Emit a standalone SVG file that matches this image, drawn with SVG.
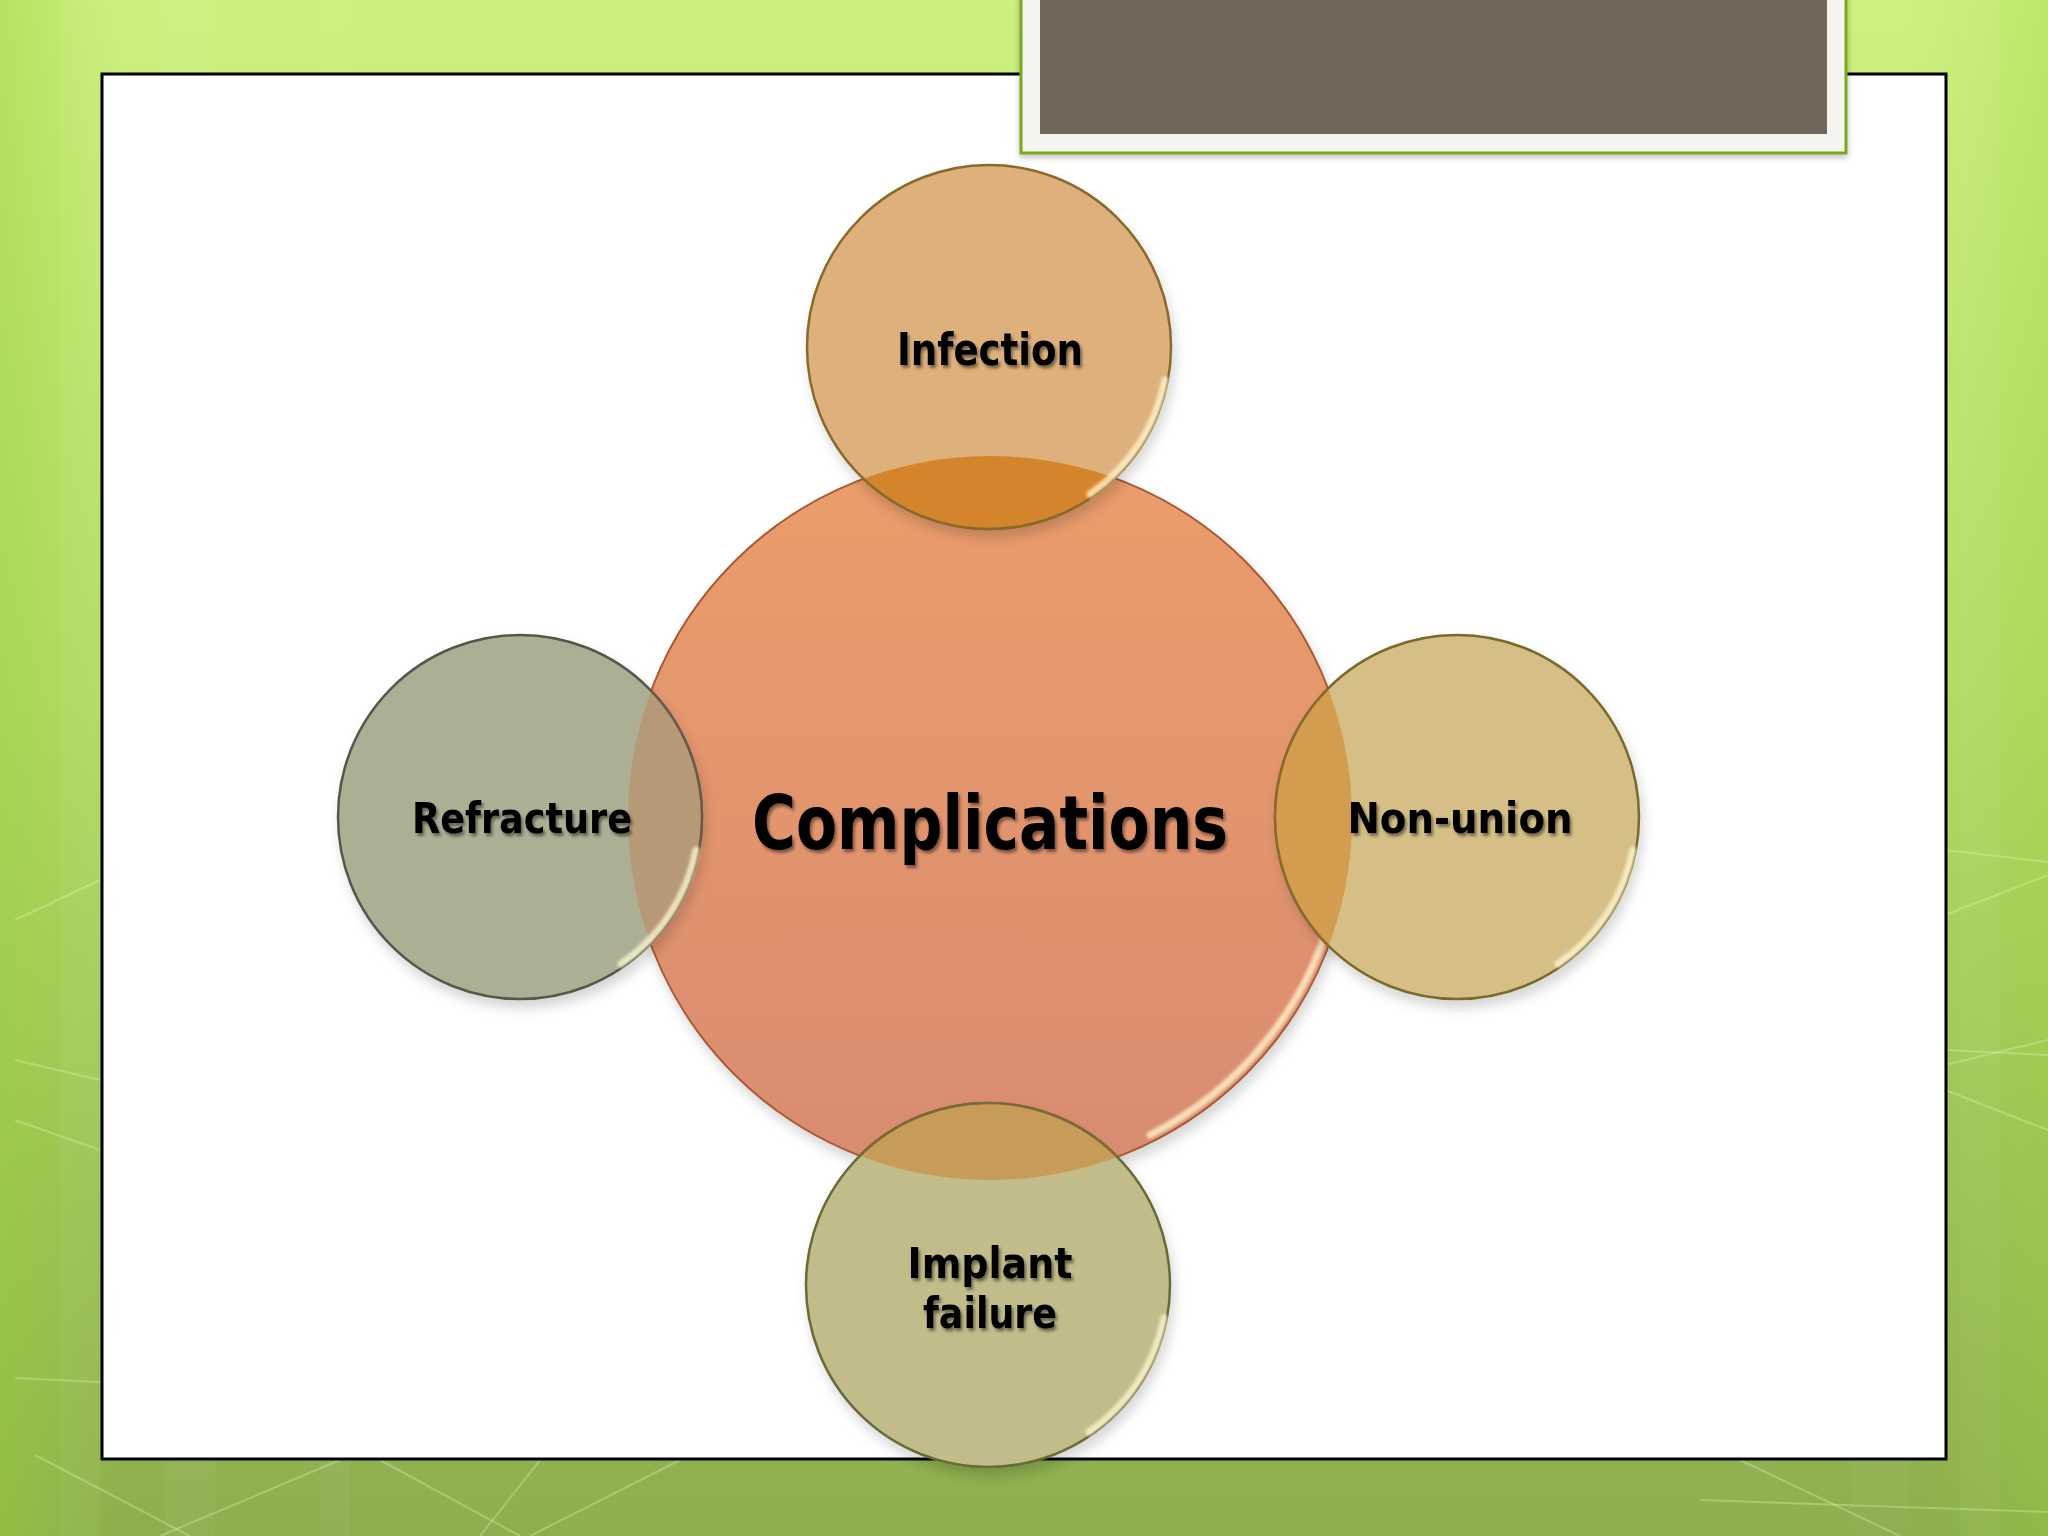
<svg xmlns="http://www.w3.org/2000/svg" width="2048" height="1536" viewBox="0 0 2048 1536">
  <style>
    .lbl { font-family: "DejaVu Sans", "Liberation Sans", sans-serif; font-weight: bold; fill: #000; text-anchor: middle; filter: url(#tshadow); }
    .bgline { stroke: #e8ffc0; stroke-opacity: 0.3; stroke-width: 2; fill: none; }
    .rim { fill: none; stroke: #fff8d0; stroke-width: 7; stroke-linecap: round; stroke-opacity: 0.75; filter: url(#soft); }
  </style>
  <defs>
    <linearGradient id="bg" x1="0" y1="0" x2="0" y2="1">
      <stop offset="0" stop-color="#cdf17e"/>
      <stop offset="0.45" stop-color="#b5dc68"/>
      <stop offset="1" stop-color="#8cae4e"/>
    </linearGradient>
    <linearGradient id="bgside" x1="0" y1="0" x2="1" y2="0">
      <stop offset="0" stop-color="#9ad03a" stop-opacity="0.45"/>
      <stop offset="0.06" stop-color="#9ad03a" stop-opacity="0"/>
      <stop offset="0.94" stop-color="#9ad03a" stop-opacity="0"/>
      <stop offset="1" stop-color="#9ad03a" stop-opacity="0.3"/>
    </linearGradient>
    <linearGradient id="gCenter" x1="0" y1="0" x2="0" y2="1">
      <stop offset="0" stop-color="#eb9d6b"/>
      <stop offset="1" stop-color="#d98b70"/>
    </linearGradient>
    <filter id="tshadow" x="-10%" y="-20%" width="120%" height="150%">
      <feDropShadow dx="2" dy="3" stdDeviation="1.5" flood-color="#000" flood-opacity="0.45"/>
    </filter>
    <filter id="cshadow" x="-15%" y="-15%" width="130%" height="135%">
      <feDropShadow dx="3" dy="8" stdDeviation="6" flood-color="#000" flood-opacity="0.16"/>
    </filter>
    <filter id="bshadow" x="-5%" y="-20%" width="110%" height="140%">
      <feDropShadow dx="0" dy="3" stdDeviation="3" flood-color="#000" flood-opacity="0.25"/>
    </filter>
    <filter id="soft" x="-20%" y="-20%" width="140%" height="140%">
      <feGaussianBlur stdDeviation="1.5"/>
    </filter>
    <clipPath id="clipCenter">
      <circle cx="990" cy="818" r="362"/>
    </clipPath>
  </defs>

  <!-- background -->
  <rect x="0" y="0" width="2048" height="1536" fill="url(#bg)"/>
  <rect x="0" y="0" width="2048" height="1536" fill="url(#bgside)"/>
  <g opacity="0.5">
    <rect x="60" y="0" width="40" height="1536" fill="#ffffff" opacity="0.08"/>
    <rect x="165" y="0" width="50" height="1536" fill="#ffffff" opacity="0.08"/>
    <rect x="320" y="0" width="30" height="1536" fill="#ffffff" opacity="0.07"/>
    <rect x="1960" y="0" width="40" height="1536" fill="#ffffff" opacity="0.08"/>
    <rect x="1850" y="0" width="60" height="1536" fill="#ffffff" opacity="0.06"/>
  </g>
  <g class="bgline">
    <path d="M15 1378 L100 1382"/>
    <path d="M35 1455 L190 1536"/>
    <path d="M160 1536 L340 1460"/>
    <path d="M380 1460 L520 1536"/>
    <path d="M480 1536 L540 1460"/>
    <path d="M530 1536 L680 1460"/>
    <path d="M1945 850 L2048 862"/>
    <path d="M1945 915 L2048 875"/>
    <path d="M1945 1050 L2048 1055"/>
    <path d="M1945 1065 L2048 1040"/>
    <path d="M1945 1090 L2048 1130"/>
    <path d="M1740 1460 L1900 1536"/>
    <path d="M1700 1500 L2048 1512"/>
    <path d="M15 920 L100 880"/>
    <path d="M15 1060 L100 1080"/>
    <path d="M15 1120 L100 1150"/>
  </g>

  <!-- white panel -->
  <rect x="102" y="74" width="1844" height="1385" fill="#ffffff" stroke="#000000" stroke-width="3"/>

  <!-- top title box -->
  <g id="title-box" filter="url(#bshadow)">
    <rect x="1021" y="-5" width="825" height="158" fill="#f4f4f1" stroke="#78a81e" stroke-width="3"/>
    <rect x="1040" y="-5" width="787" height="139" fill="#72675a"/>
  </g>

  <g id="connectors"></g>

  <!-- center node -->
  <g id="node-complications">
    <circle cx="990" cy="818" r="362" fill="url(#gCenter)" stroke="#a85a35" stroke-width="2" filter="url(#cshadow)"/>
    <path class="rim" d="M 1334 905 A 355 355 0 0 1 1150 1135"/>
    <text class="lbl" x="990" y="849" font-size="75" textLength="476" lengthAdjust="spacingAndGlyphs">Complications</text>
  </g>

  <!-- Infection -->
  <g id="node-infection">
    <circle cx="989" cy="347" r="182" fill="#ddb07b" stroke="#8a6a2c" stroke-width="2.5" filter="url(#cshadow)"/>
    <circle cx="989" cy="347" r="182" fill="#d4852c" clip-path="url(#clipCenter)" stroke="#8a6a2c" stroke-width="2.5"/>
    <path class="rim" d="M 1165 380 A 178 178 0 0 1 1090 494"/>
    <text class="lbl" x="990" y="365" font-size="44" textLength="186" lengthAdjust="spacingAndGlyphs">Infection</text>
  </g>

  <!-- Refracture -->
  <g id="node-refracture">
    <circle cx="520" cy="817" r="182" fill="#adaf94" stroke="#55584a" stroke-width="2.5" filter="url(#cshadow)"/>
    <circle cx="520" cy="817" r="182" fill="#b69a78" clip-path="url(#clipCenter)" stroke="#6a5a48" stroke-width="2.5"/>
    <path class="rim" d="M 696 850 A 178 178 0 0 1 621 964"/>
    <text class="lbl" x="522" y="833" font-size="43" textLength="220" lengthAdjust="spacingAndGlyphs">Refracture</text>
  </g>

  <!-- Non-union -->
  <g id="node-nonunion">
    <circle cx="1457" cy="817" r="182" fill="#d5bf87" stroke="#7a6a2a" stroke-width="2.5" filter="url(#cshadow)"/>
    <circle cx="1457" cy="817" r="182" fill="#d49c4e" clip-path="url(#clipCenter)" stroke="#8a6a2a" stroke-width="2.5"/>
    <path class="rim" d="M 1633 850 A 178 178 0 0 1 1558 964"/>
    <text class="lbl" x="1460" y="833" font-size="43" textLength="225" lengthAdjust="spacingAndGlyphs">Non-union</text>
  </g>

  <!-- Implant failure -->
  <g id="node-implant">
    <circle cx="988" cy="1285" r="182" fill="#c2bb8a" stroke="#676a38" stroke-width="2.5" filter="url(#cshadow)"/>
    <circle cx="988" cy="1285" r="182" fill="#c69c58" clip-path="url(#clipCenter)" stroke="#7a6a38" stroke-width="2.5"/>
    <path class="rim" d="M 1164 1318 A 178 178 0 0 1 1089 1432"/>
    <text class="lbl" x="990" y="1278" font-size="43" textLength="165" lengthAdjust="spacingAndGlyphs">Implant</text>
    <text class="lbl" x="990" y="1328" font-size="43" textLength="134" lengthAdjust="spacingAndGlyphs">failure</text>
  </g>
</svg>
